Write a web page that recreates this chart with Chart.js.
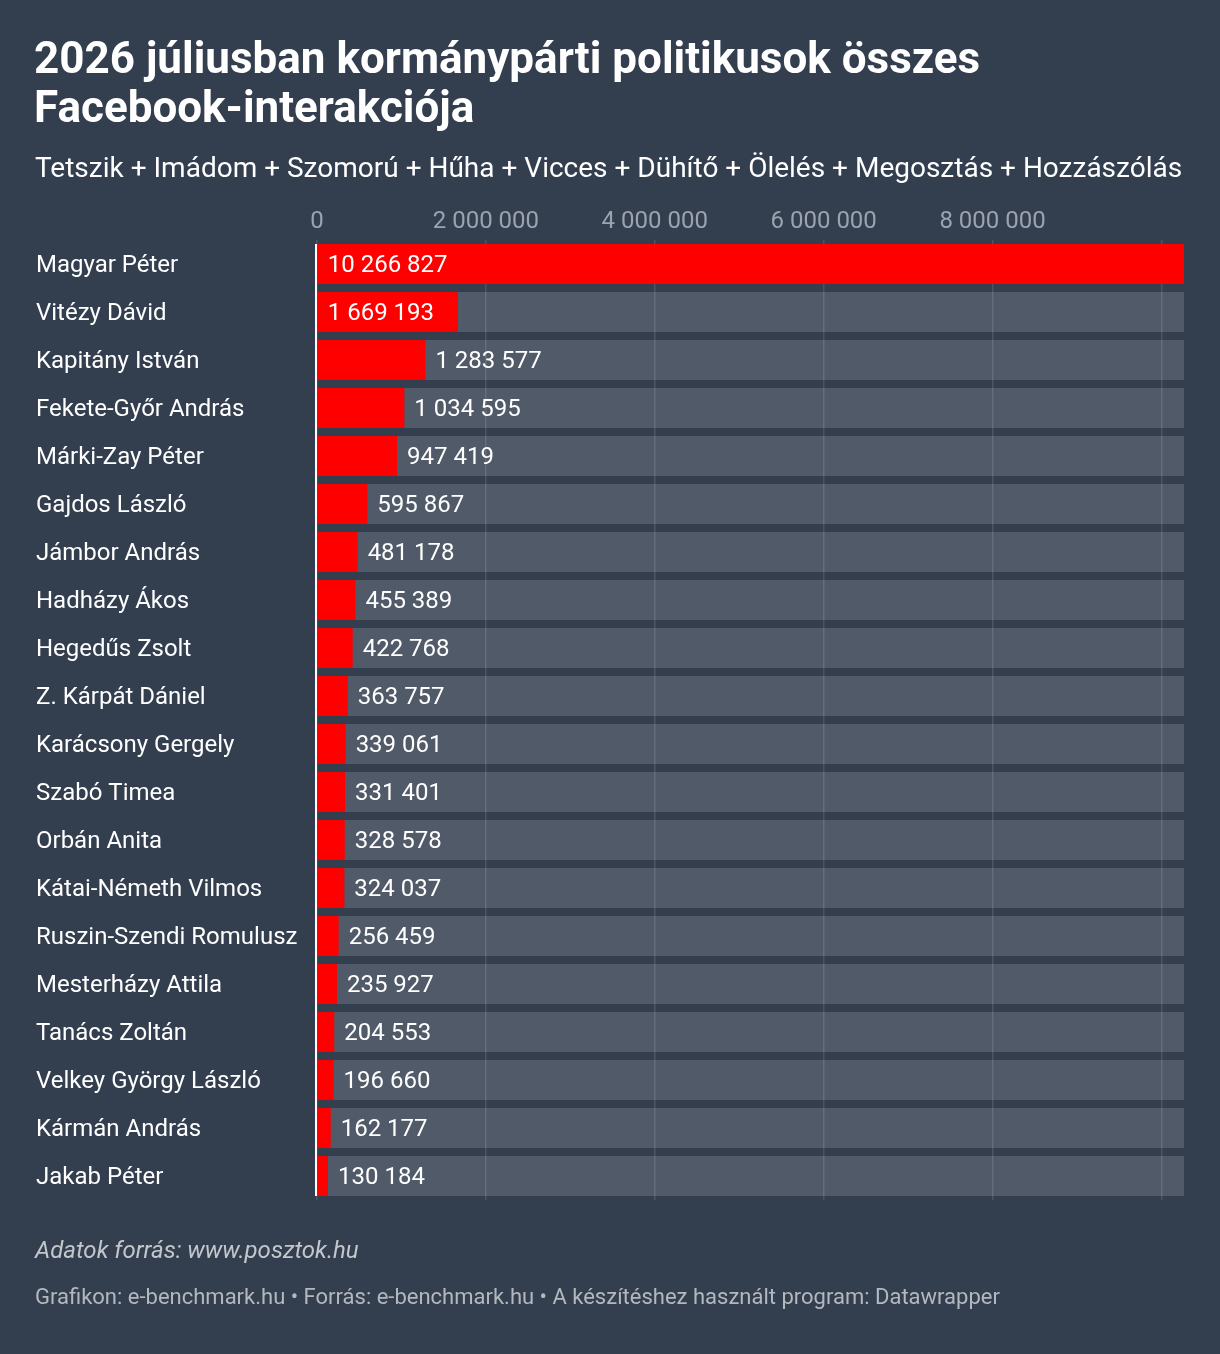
<!DOCTYPE html>
<html lang="hu">
<head>
<meta charset="utf-8">
<title>Facebook-interakciók</title>
<script src="https://cdn.jsdelivr.net/npm/chart.js@4.4.1/dist/chart.umd.min.js"></script>
<style>
    body {
        margin: 0;
        background: #333e4f;
        font-family: Roboto, "Noto Sans", sans-serif;
        overflow: hidden;
    }
    .wrap {
        position: relative;
        width: 1220px;
        height: 1354px;
    }
    #chart {
        position: absolute;
        left: 0;
        top: 0;
    }
    .title {
        position: absolute;
        left: 34px;
        top: 34px;
        margin: 0;
        color: #ffffff;
        font-size: 44px;
        font-weight: 700;
        line-height: 49px;
        white-space: nowrap;
    }
    .subtitle {
        position: absolute;
        left: 35px;
        top: 151px;
        color: #ffffff;
        font-size: 28px;
        line-height: 34px;
        white-space: nowrap;
    }
    .notes {
        position: absolute;
        left: 35px;
        top: 1236px;
        color: #c3c7cd;
        font-size: 24px;
        font-style: italic;
        line-height: 28px;
    }
    .byline {
        position: absolute;
        left: 35px;
        top: 1283px;
        color: #b3b8bf;
        font-size: 22px;
        line-height: 28px;
        white-space: nowrap;
    }
</style>
</head>
<body>
<div class="wrap">
    <canvas id="chart" width="1220" height="1354"></canvas>
    <h1 class="title">2026 júliusban kormánypárti politikusok összes<br>Facebook-interakciója</h1>
    <div class="subtitle">Tetszik + Imádom + Szomorú + Hűha + Vicces + Dühítő + Ölelés + Megosztás + Hozzászólás</div>
    <div class="notes">Adatok forrás: www.posztok.hu</div>
    <div class="byline">Grafikon: e-benchmark.hu • Forrás: e-benchmark.hu • A készítéshez használt program: Datawrapper</div>
</div>
<script>
const names = [
    'Magyar Péter', 'Vitézy Dávid', 'Kapitány István', 'Fekete-Győr András',
    'Márki-Zay Péter', 'Gajdos László', 'Jámbor András', 'Hadházy Ákos',
    'Hegedűs Zsolt', 'Z. Kárpát Dániel', 'Karácsony Gergely', 'Szabó Timea',
    'Orbán Anita', 'Kátai-Németh Vilmos', 'Ruszin-Szendi Romulusz', 'Mesterházy Attila',
    'Tanács Zoltán', 'Velkey György László', 'Kármán András', 'Jakab Péter'
];
const interactions = [
    10266827, 1669193, 1283577, 1034595,
    947419, 595867, 481178, 455389,
    422768, 363757, 339061, 331401,
    328578, 324037, 256459, 235927,
    204553, 196660, 162177, 130184
];
// gridlines; the last one carries no label
const tickValues = [0, 2000000, 4000000, 6000000, 8000000, 10000000];
const hiddenTicks = [10000000];

const maxValue = Math.max(...interactions);
const track = interactions.map(() => maxValue);

function fmt(n) {
    return String(n).replace(/\B(?=(\d{3})+(?!\d))/g, ' ');
}

const labelFont = '24px Roboto, "Noto Sans", sans-serif';

// value labels + white zero line
const barLabels = {
    id: 'barLabels',
    afterDatasetsDraw(chart) {
        const ctx = chart.ctx;
        const meta = chart.getDatasetMeta(0);
        ctx.save();
        ctx.font = labelFont;
        ctx.fillStyle = '#ffffff';
        ctx.textBaseline = 'middle';
        ctx.textAlign = 'left';
        meta.data.forEach((bar, i) => {
            const text = fmt(interactions[i]);
            const w = ctx.measureText(text).width;
            const len = bar.x - bar.base;
            const x = len > w + 22 ? bar.base + 10 : bar.x + 10;
            ctx.fillText(text, x, bar.y + 2);
        });

        const first = meta.data[0];
        const last = meta.data[meta.data.length - 1];
        const x0 = chart.scales.x.getPixelForValue(0);
        const top = first.y - first.height / 2;
        const bottom = last.y + last.height / 2;
        ctx.fillRect(x0 - 2, top, 2, bottom - top);
        ctx.restore();
    }
};

new Chart(document.getElementById('chart'), {
    type: 'bar',
    data: {
        labels: names,
        datasets: [
            {
                data: interactions,
                backgroundColor: '#ff0000',
                grouped: false,
                barPercentage: 40 / 48,
                categoryPercentage: 1
            },
            {
                data: track,
                backgroundColor: 'rgba(255, 255, 255, 0.145)',
                grouped: false,
                barPercentage: 40 / 48,
                categoryPercentage: 1
            }
        ]
    },
    options: {
        indexAxis: 'y',
        responsive: false,
        animation: false,
        devicePixelRatio: window.devicePixelRatio || 1,
        layout: {
            padding: { left: 36, right: 36, top: 206, bottom: 154 }
        },
        plugins: {
            legend: { display: false },
            tooltip: { enabled: false }
        },
        scales: {
            x: {
                position: 'top',
                min: 0,
                max: maxValue,
                border: { display: false },
                grid: {
                    color: 'rgba(255, 255, 255, 0.12)',
                    lineWidth: 1.5,
                    drawTicks: false
                },
                ticks: {
                    maxRotation: 0,
                    autoSkip: false,
                    padding: 4,
                    color: '#9ba3ae',
                    font: { family: 'Roboto', size: 24 },
                    callback: (v) => hiddenTicks.includes(v) ? '' : fmt(v)
                },
                afterBuildTicks: (scale) => {
                    scale.ticks = tickValues.map(v => ({ value: v }));
                },
                afterFit: (scale) => { scale.height = 34; }
            },
            y: {
                border: { display: false },
                grid: { display: false },
                ticks: {
                    crossAlign: 'far',
                    labelOffset: 2,
                    color: '#ffffff',
                    font: { family: 'Roboto', size: 24 }
                },
                afterFit: (scale) => { scale.width = 281; }
            }
        }
    },
    plugins: [barLabels]
});
</script>
</body>
</html>
